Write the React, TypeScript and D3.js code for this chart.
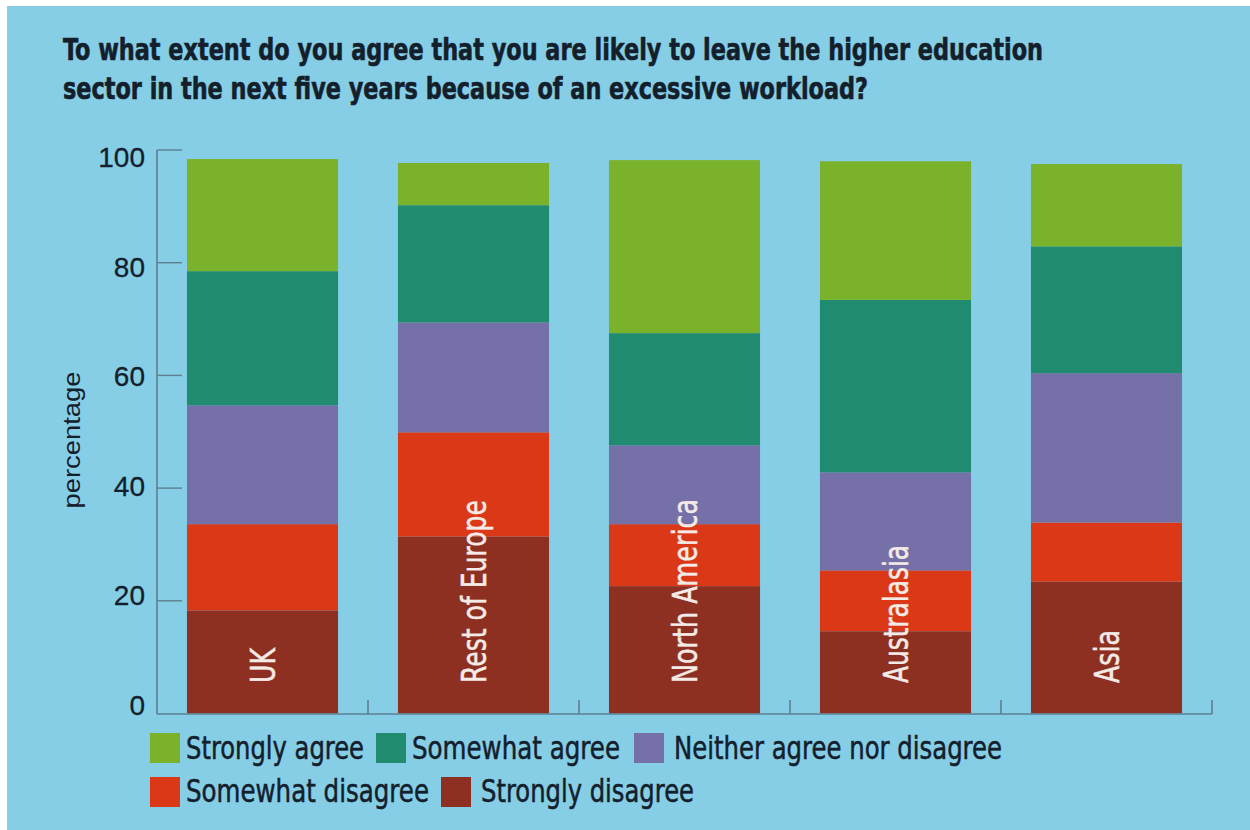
import React from "react";
import * as d3 from "d3";

const categories = ["UK", "Rest of Europe", "North America", "Australasia", "Asia"];
const seriesNames = [
  "Strongly disagree",
  "Somewhat disagree",
  "Neither agree nor disagree",
  "Somewhat agree",
  "Strongly agree",
];
const stronglyDisagree = [18.3, 31.4, 22.6, 14.6, 23.4];
const somewhatDisagree = [15.3, 18.5, 11.0, 10.8, 10.5];
const neither = [21.1, 19.5, 14.0, 17.4, 26.5];
const somewhatAgree = [23.8, 20.8, 19.9, 30.6, 22.5];
const stronglyAgree = [19.9, 7.5, 30.7, 24.6, 14.6];
const yTicks = [0, 20, 40, 60, 80, 100];

const colors: Record<string, string> = {
  "Strongly agree": "#7ab32b",
  "Somewhat agree": "#218b6f",
  "Neither agree nor disagree": "#7670a8",
  "Somewhat disagree": "#da3817",
  "Strongly disagree": "#8d3021",
};

const catLabelLen: Record<string, number> = {
  UK: 35,
  "Rest of Europe": 183,
  "North America": 184,
  Australasia: 138,
  Asia: 53,
};

const legendRows = [
  [
    { name: "Strongly agree", sx: 150, tx: 186, len: 178 },
    { name: "Somewhat agree", sx: 376, tx: 412, len: 208 },
    { name: "Neither agree nor disagree", sx: 634, tx: 674, len: 328 },
  ],
  [
    { name: "Somewhat disagree", sx: 150, tx: 186, len: 243 },
    { name: "Strongly disagree", sx: 441, tx: 481, len: 213 },
  ],
];

const BG = "#86cee6";
const AXIS = "#5d7f90";
const TEXT = "#13202c";
const NARROW = "'Liberation Sans Narrow', 'DejaVu Sans Condensed', 'Roboto', 'Liberation Sans', sans-serif";
const SANS = "'Liberation Sans', Arial, sans-serif";

export default function App() {
  const table = categories.map((c, i) => ({
    category: c,
    "Strongly disagree": stronglyDisagree[i],
    "Somewhat disagree": somewhatDisagree[i],
    "Neither agree nor disagree": neither[i],
    "Somewhat agree": somewhatAgree[i],
    "Strongly agree": stronglyAgree[i],
  }));
  const stacked = d3.stack<any>().keys(seriesNames)(table);

  const x = d3
    .scaleBand<string>()
    .domain(categories)
    .range([157, 1212])
    .paddingInner(0.284)
    .paddingOuter(0.142);
  const y = d3.scaleLinear().domain([0, 100]).range([713.5, 150]);
  const yLabel = d3.scaleLinear().domain([0, 100]).range([715, 167]);
  const step = x.step();
  const boundaries = categories.map((c) => (x(c) as number) + x.bandwidth() + (step * x.paddingInner()) / 2);

  return (
    <svg
      width={1250}
      height={830}
      style={{ position: "absolute", left: 0, top: 0, display: "block" }}
    >
      <rect x={0} y={0} width={1250} height={830} fill="#ffffff" />
      <rect x={7} y={6} width={1243} height={824} fill={BG} />

      <text x={63} y={60} fontFamily={NARROW} fontWeight="bold" fontSize={30} fill={TEXT} stroke={TEXT} strokeWidth={0.6} textLength={980} lengthAdjust="spacingAndGlyphs">
        To what extent do you agree that you are likely to leave the higher education
      </text>
      <text x={63} y={99} fontFamily={NARROW} fontWeight="bold" fontSize={30} fill={TEXT} stroke={TEXT} strokeWidth={0.6} textLength={805} lengthAdjust="spacingAndGlyphs">
        sector in the next five years because of an excessive workload?
      </text>

      {stacked.map((layer) =>
        layer.map((d, i) => (
          <rect
            key={layer.key + i}
            x={x(categories[i])}
            y={y(d[1])}
            width={x.bandwidth()}
            height={y(d[0]) - y(d[1])}
            fill={colors[layer.key]}
          />
        ))
      )}

      {categories.map((c) => (
        <text
          key={c}
          transform={`translate(${(x(c) as number) + x.bandwidth() / 2},${683}) rotate(-90)`}
          dy="0.37em"
          fontFamily={NARROW}
          fontSize={33}
          fill="#f4ebe6"
          stroke="#f4ebe6"
          strokeWidth={0.5}
          textLength={catLabelLen[c]}
          lengthAdjust="spacingAndGlyphs"
        >
          {c}
        </text>
      ))}

      <line x1={157} x2={157} y1={150} y2={714} stroke={AXIS} strokeWidth={1.6} />
      <line x1={157} x2={1212} y1={714} y2={714} stroke={AXIS} strokeWidth={1.6} />
      {yTicks.filter((t) => t > 0).map((t) => (
        <line key={t} x1={157} x2={182} y1={y(t)} y2={y(t)} stroke={AXIS} strokeWidth={1.4} />
      ))}
      {boundaries.map((b, i) => (
        <line key={i} x1={b} x2={b} y1={714} y2={700} stroke={AXIS} strokeWidth={1.6} />
      ))}
      {yTicks.map((t) => (
        <text key={t} x={145} y={yLabel(t)} textAnchor="end" fontFamily={SANS} fontSize={28} fill={TEXT} stroke={TEXT} strokeWidth={0.3}>
          {t}
        </text>
      ))}
      <text
        transform="translate(72,440) rotate(-90)"
        textAnchor="middle"
        dy="0.35em"
        fontFamily={SANS}
        fontSize={24}
        fill={TEXT}
        textLength={137}
        lengthAdjust="spacingAndGlyphs"
      >
        percentage
      </text>

      {legendRows.map((row, r) =>
        row.map((item) => (
          <g key={item.name}>
            <rect x={item.sx} y={r === 0 ? 733 : 777} width={30} height={30} fill={colors[item.name]} />
            <text
              x={item.tx}
              y={r === 0 ? 759 : 802}
              fontFamily={NARROW}
              fontSize={32}
              fill={TEXT}
              stroke={TEXT}
              strokeWidth={0.5}
              textLength={item.len}
              lengthAdjust="spacingAndGlyphs"
            >
              {item.name}
            </text>
          </g>
        ))
      )}
    </svg>
  );
}
